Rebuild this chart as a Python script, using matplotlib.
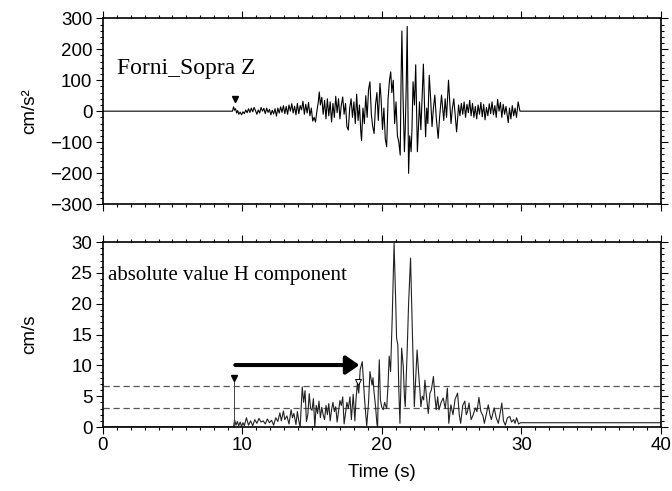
import matplotlib
matplotlib.use('Agg')
import matplotlib.pyplot as plt
from matplotlib.ticker import MultipleLocator

# top trace: vertical acceleration (cm/s^2)
acc_t = [0.0, 9.30, 9.38, 9.45, 9.52, 9.60, 9.68, 9.75, 9.85, 9.95, 10.05, 10.15, 10.25, 10.35,
         10.45, 10.55, 10.65, 10.75, 10.85, 10.95, 11.05, 11.15, 11.25, 11.35, 11.45, 11.55,
         11.65, 11.75, 11.85, 11.95, 12.05, 12.15, 12.25, 12.35, 12.45, 12.55, 12.65, 12.75,
         12.85, 12.95, 13.05, 13.15, 13.25, 13.35, 13.45, 13.55, 13.65, 13.75, 13.85, 13.95,
         14.05, 14.15, 14.25, 14.35, 14.45, 14.55, 14.65, 14.75, 14.85, 14.95, 15.05, 15.15,
         15.25, 15.35, 15.45, 15.52, 15.60, 15.70, 15.80, 15.90, 16.00, 16.10, 16.20, 16.30,
         16.40, 16.50, 16.60, 16.70, 16.80, 16.90, 17.00, 17.10, 17.20, 17.30, 17.40, 17.50,
         17.60, 17.70, 17.80, 17.90, 18.00, 18.10, 18.20, 18.30, 18.40, 18.50, 18.55, 18.65,
         18.75, 18.85, 18.95, 19.05, 19.15, 19.25, 19.35, 19.45, 19.55, 19.65, 19.75, 19.87,
         19.95, 20.05, 20.15, 20.25, 20.35, 20.45, 20.55, 20.64, 20.72, 20.82, 20.92, 21.02,
         21.12, 21.22, 21.32, 21.38, 21.44, 21.52, 21.62, 21.68, 21.75, 21.82, 21.87, 21.92,
         22.00, 22.10, 22.16, 22.24, 22.34, 22.43, 22.55, 22.62, 22.70, 22.80, 22.90, 22.98,
         23.06, 23.14, 23.22, 23.30, 23.40, 23.50, 23.60, 23.70, 23.80, 23.90, 24.04, 24.14,
         24.28, 24.36, 24.44, 24.54, 24.64, 24.78, 24.88, 24.96, 25.06, 25.16, 25.36, 25.44,
         25.50, 25.60, 25.70, 25.80, 25.90, 26.00, 26.10, 26.20, 26.30, 26.40, 26.50, 26.60,
         26.70, 26.80, 26.90, 27.00, 27.10, 27.20, 27.30, 27.40, 27.50, 27.60, 27.70, 27.80,
         27.90, 28.00, 28.10, 28.20, 28.30, 28.40, 28.50, 28.60, 28.70, 28.80, 28.90, 29.06,
         29.15, 29.25, 29.35, 29.45, 29.55, 29.65, 29.77, 29.90, 40.0]
acc_v = [0, 0, 14, 3, 8, -6, 2, -10, -3, -12, -2, -8, 4, -5,
         8, -4, 10, -2, 12, 2, -10, 4, -6, 12, 0, 9,
         -8, 10, -4, 6, -12, 3, -9, 8, -16, 10, -6, 14,
         -4, 18, -8, 15, -10, 20, 0, 24, -6, 16, -12, 25,
         -8, 18, 4, 32, -10, 22, -6, 28, -15, 10, -32, -20,
         -35, 0, 30, 62, 20, 45, -10, 35, -25, 40, -15, 30,
         -35, 25, -20, 48, -5, 40, -25, 20, 46, -10, 25, -50,
         -61, 10, 40, -20, 30, -40, 55, -30, 20, -70, -94, 10,
         -40, 50, -20, 70, 95, -10, -50, -72, 20, 60, -30, 90,
         40, -60, 10, -90, -115, 40, 100, 127, 60, 100, -40, 30,
         -80, -100, -142, 100, 259, 50, -131, -60, 80, 274, 20, -201,
         -80, -131, -60, 95, 20, 150, -131, -60, 30, -60, 60, 152,
         20, -83, 10, -40, 116, 40, -50, 10, 52, -20, -88, -20,
         52, 10, -30, 40, -20, 100, 20, -40, 10, 40, -67, -20,
         20, -15, 25, -10, 30, -20, 22, -5, 35, -15, 25, -20,
         15, -25, 20, -10, 28, -18, 22, -28, 12, -15, 24, -8,
         30, -12, 18, -20, 38, 0, 28, -20, 22, -10, 15, -37,
         10, -25, 18, -15, 10, -20, 30, 0, 0]

# bottom trace: absolute value of horizontal velocity (cm/s)
vel_t = [0.0, 9.38, 9.45, 9.55, 9.65, 9.75, 9.85, 9.95, 10.05, 10.15, 10.30, 10.45, 10.60,
         10.75, 10.90, 11.05, 11.20, 11.35, 11.50, 11.65, 11.80, 11.95, 12.10, 12.25, 12.40,
         12.55, 12.70, 12.80, 12.95, 13.05, 13.20, 13.35, 13.50, 13.60, 13.70, 13.85, 13.95,
         14.05, 14.15, 14.30, 14.40, 14.50, 14.60, 14.70, 14.80, 14.90, 15.00, 15.10, 15.20,
         15.30, 15.40, 15.50, 15.60, 15.70, 15.80, 15.90, 16.00, 16.10, 16.20, 16.30, 16.40,
         16.50, 16.60, 16.70, 16.80, 16.90, 17.00, 17.10, 17.20, 17.30, 17.40, 17.50, 17.60,
         17.72, 17.82, 17.95, 18.07, 18.15, 18.25, 18.35, 18.45, 18.60, 18.75, 18.85, 18.92,
         19.05, 19.15, 19.30, 19.37, 19.43, 19.55, 19.65, 19.70, 19.75, 19.82, 19.90, 20.00,
         20.10, 20.20, 20.35, 20.45, 20.53, 20.63, 20.75, 20.88, 21.00, 21.06, 21.15, 21.22,
         21.30, 21.36, 21.42, 21.54, 21.62, 21.68, 21.75, 21.82, 21.92, 22.06, 22.14, 22.20,
         22.28, 22.33, 22.43, 22.53, 22.63, 22.73, 22.80, 22.90, 23.00, 23.09, 23.20, 23.33,
         23.45, 23.55, 23.70, 23.80, 23.90, 24.00, 24.10, 24.25, 24.40, 24.55, 24.70, 24.80,
         24.95, 25.10, 25.25, 25.43, 25.55, 25.65, 25.80, 25.95, 26.05, 26.14, 26.25, 26.40,
         26.55, 26.70, 26.82, 26.96, 27.10, 27.25, 27.35, 27.50, 27.63, 27.75, 27.85, 28.05,
         28.20, 28.35, 28.50, 28.60, 28.72, 28.85, 29.00, 29.17, 29.30, 29.45, 29.55, 29.66,
         29.80, 29.95, 40.0]
vel_v = [0, 0, 1.2, 0.3, 0.9, 0.2, 0.8, 0.1, 0.7, 0.2, 1.5, 0.3, 1.0,
         0.2, 1.2, 0.6, 1.4, 0.8, 1.0, 0.5, 1.3, 0.7, 1.1, 0.3, 1.5,
         0.9, 2.3, 1.0, 2.6, 1.2, 1.8, 0.5, 2.8, 1.5, 2.2, 0.4, 2.5,
         1.0, 0.0, 6.5, 4.0, 5.9, 0.9, 2.0, 5.4, 3.0, 2.7, 4.6, 0.0,
         3.5, 2.2, 4.2, 1.5, 3.2, 2.0, 1.2, 3.5, 2.0, 3.8, 1.0, 2.8,
         4.0, 2.5, 3.3, 0.8, 2.5, 4.3, 3.5, 4.9, 0.5, 2.2, 4.0, 3.0,
         4.9, 1.2, 5.3, 1.0, 4.5, 7.0, 5.5, 9.3, 10.6, 5.0, 2.0, 0.2,
         4.0, 9.0, 6.8, 8.0, 6.0, 3.4, 0.5, 0.0, 6.0, 10.9, 4.4, 3.2,
         2.8, 4.0, 3.0, 7.0, 11.5, 9.0, 18.0, 29.8, 20.0, 14.4, 13.3, 6.0,
         0.6, 6.0, 12.8, 9.8, 5.0, 3.3, 8.0, 12.5, 20.0, 27.4, 20.0, 14.6,
         8.0, 3.3, 8.0, 12.5, 9.0, 6.0, 3.3, 5.0, 4.4, 7.6, 5.0, 2.2,
         5.5, 6.0, 8.2, 5.0, 2.8, 4.9, 2.8, 4.0, 4.7, 3.0, 6.3, 0.6,
         3.6, 2.0, 4.5, 5.5, 2.0, 0.6, 3.5, 4.2, 2.0, 2.5, 3.9, 1.2,
         2.0, 3.1, 2.5, 4.8, 2.5, 1.8, 0.6, 2.2, 3.6, 2.0, 1.2, 3.1,
         1.5, 0.6, 2.5, 3.9, 1.0, 0.3, 1.5, 1.7, 0.8, 1.2, 0.6, 1.5,
         0.5, 0.7, 0.7]

thresholds = [6.7, 3.1]
pick_time = 9.4
pick_acc = 38
pick_vel = 7.9
second_pick = (18.3, 7.3)
arrow_start = (9.5, 10.05)
arrow_end = (18.4, 10.05)

plt.rcParams['font.family'] = ['Liberation Sans', 'DejaVu Sans']

fig = plt.figure(figsize=(6.72, 4.91), dpi=100)
fig.patch.set_facecolor('white')

ax1 = fig.add_axes([0.1528, 0.5845, 0.8307, 0.3782])
ax2 = fig.add_axes([0.1528, 0.1303, 0.8307, 0.3768])


def style(ax):
    for s in ax.spines.values():
        s.set_linewidth(1.2)
    ax.set_xlim(0, 40)
    ax.xaxis.set_major_locator(MultipleLocator(10))
    ax.xaxis.set_minor_locator(MultipleLocator(1))
    ax.tick_params(which='both', direction='out', top=True, right=True,
                   labelsize=13.5, width=0.8)
    ax.tick_params(which='major', length=5, pad=2.5)
    ax.tick_params(which='minor', length=2.5)


# top panel
style(ax1)
ax1.plot(acc_t, acc_v, color='black', lw=0.8)
ax1.plot([pick_time + 0.05], [pick_acc], marker='v', color='black', ms=5, ls='none')
ax1.set_ylim(-300, 300)
ax1.yaxis.set_major_locator(MultipleLocator(100))
ax1.yaxis.set_minor_locator(MultipleLocator(20))
ax1.tick_params(labelbottom=False)
ax1.set_ylabel('cm/s²', fontsize=13.5)
ax1.yaxis.set_label_coords(-0.115, 0.5)
ax1.text(1.0, 119, 'Forni_Sopra Z', family='Liberation Serif', fontsize=17, va='baseline')

# bottom panel
style(ax2)
for th in thresholds:
    ax2.axhline(th, color='#555555', lw=0.9, ls=(0, (5, 3)))
ax2.plot(vel_t, vel_v, color='#222222', lw=0.8)
ax2.plot([pick_time, pick_time], [0, pick_vel], color='#444444', lw=0.7)
ax2.plot([pick_time], [pick_vel], marker='v', color='black', ms=5, ls='none')
ax2.plot([second_pick[0]], [second_pick[1]], marker='v', mfc='white', mec='black',
         mew=0.7, ms=5, ls='none')
ax2.annotate('', xy=arrow_end, xytext=arrow_start,
             arrowprops=dict(arrowstyle='-|>,head_length=0.8,head_width=0.55',
                             lw=2.9, color='black', shrinkA=0, shrinkB=0))
ax2.set_ylim(0, 30)
ax2.yaxis.set_major_locator(MultipleLocator(5))
ax2.yaxis.set_minor_locator(MultipleLocator(1))
ax2.set_ylabel('cm/s', fontsize=13.5)
ax2.yaxis.set_label_coords(-0.115, 0.5)
ax2.set_xlabel('Time (s)', fontsize=13.5)
ax2.xaxis.set_label_coords(0.5, -0.2)
ax2.text(0.4, 23.8, 'absolute value H component', family='Liberation Serif',
         fontsize=15, va='baseline')

fig.savefig('out.png', dpi=100, facecolor='white')
plt.close(fig)
